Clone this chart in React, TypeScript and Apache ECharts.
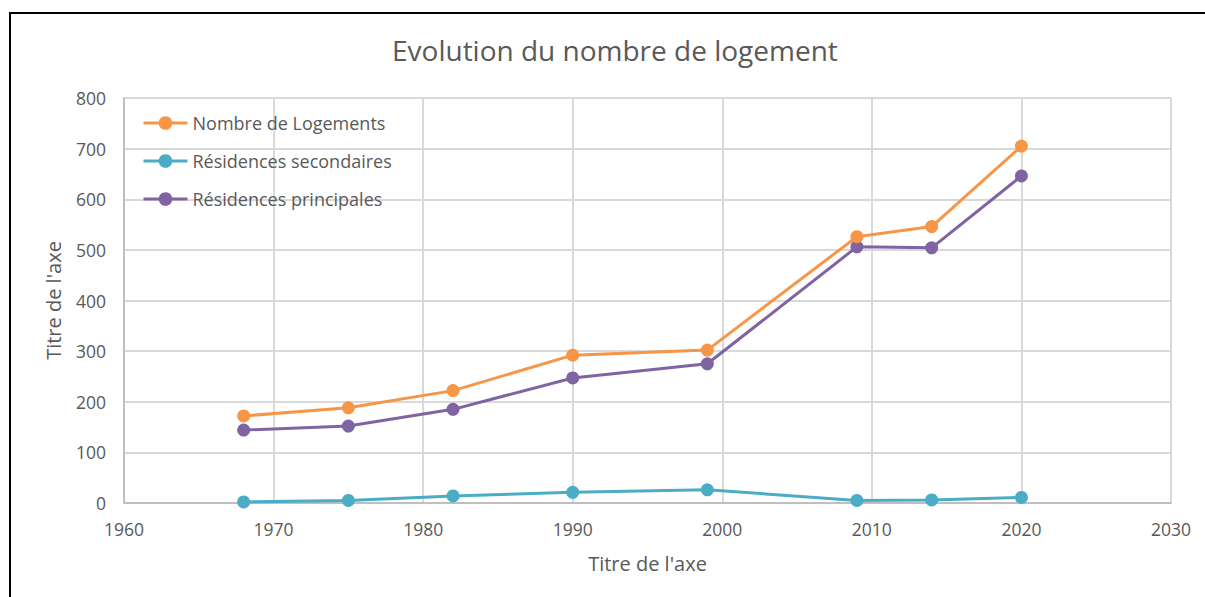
import React, { useEffect, useRef } from "react";
import * as echarts from "echarts";

const years = [1968, 1975, 1982, 1990, 1999, 2009, 2014, 2020];
const logements = [172, 188, 222, 292, 302, 526, 546, 705];
const secondaires = [2, 5, 14, 21, 26, 5, 6, 11];
const principales = [144, 152, 185, 247, 275, 506, 504, 646];

const seriesNames = ["Nombre de Logements", "Résidences secondaires", "Résidences principales"];
const seriesColors = ["#F79646", "#4BACC6", "#8064A2"];
const title = "Evolution du nombre de logement";
const axisTitle = "Titre de l'axe";

const FONT = "'Open Sans', sans-serif";
const TEXT = "#595959";

export default function App() {
  const ref = useRef<HTMLDivElement>(null);
  useEffect(() => {
    if (!ref.current) return;
    const chart = echarts.init(ref.current, null, { renderer: "svg" });
    const values = [logements, secondaires, principales];
    chart.setOption({
      animation: false,
      backgroundColor: "#ffffff",
      title: {
        text: title,
        left: 387,
        top: 31,
        textStyle: { fontFamily: FONT, fontSize: 28, fontWeight: "normal", color: TEXT },
      },
      graphic: [
        {
          type: "rect",
          shape: { x: 10, y: 13, width: 1400, height: 800 },
          style: { fill: "none", stroke: "#000000", lineWidth: 2 },
          silent: true,
          z: 100,
        },
      ],
      legend: {
        orient: "vertical",
        left: 137,
        top: 109,
        itemWidth: 44,
        itemHeight: 17,
        itemGap: 20,
        lineStyle: { width: 3 },
        textStyle: { fontFamily: FONT, fontSize: 18, lineHeight: 18, color: TEXT },
        data: seriesNames,
      },
      grid: { left: 124, right: 34, top: 98, bottom: 94 },
      xAxis: {
        type: "value",
        min: 1960,
        max: 2030,
        interval: 10,
        name: axisTitle,
        nameLocation: "middle",
        nameGap: 50,
        nameTextStyle: { fontFamily: FONT, fontSize: 20, color: TEXT },
        axisLine: { show: true, lineStyle: { color: "#bfbfbf", width: 2 } },
        axisTick: { show: false },
        axisLabel: { fontFamily: FONT, fontSize: 17.5, color: TEXT, margin: 17, formatter: (v: number) => String(v) },
        splitLine: { show: true, lineStyle: { color: "#d9d9d9", width: 2 } },
      },
      yAxis: {
        type: "value",
        min: 0,
        max: 800,
        interval: 100,
        name: axisTitle,
        nameLocation: "middle",
        nameGap: 61,
        nameTextStyle: { fontFamily: FONT, fontSize: 20, color: TEXT },
        axisLine: { show: true, lineStyle: { color: "#bfbfbf", width: 2 } },
        axisTick: { show: false },
        axisLabel: { fontFamily: FONT, fontSize: 17.5, color: TEXT, margin: 18 },
        splitLine: { show: true, lineStyle: { color: "#d9d9d9", width: 2 } },
      },
      series: seriesNames.map((name, i) => ({
        name,
        type: "line",
        data: years.map((y, j) => [y, values[i][j]]),
        symbol: "circle",
        symbolSize: 13,
        lineStyle: { width: 3, color: seriesColors[i] },
        itemStyle: { color: seriesColors[i] },
        z: 10 - i,
      })),
    });
    return () => chart.dispose();
  }, []);
  return <div ref={ref} style={{ position: "absolute", left: 0, top: 0, width: 1205, height: 597 }} />;
}
